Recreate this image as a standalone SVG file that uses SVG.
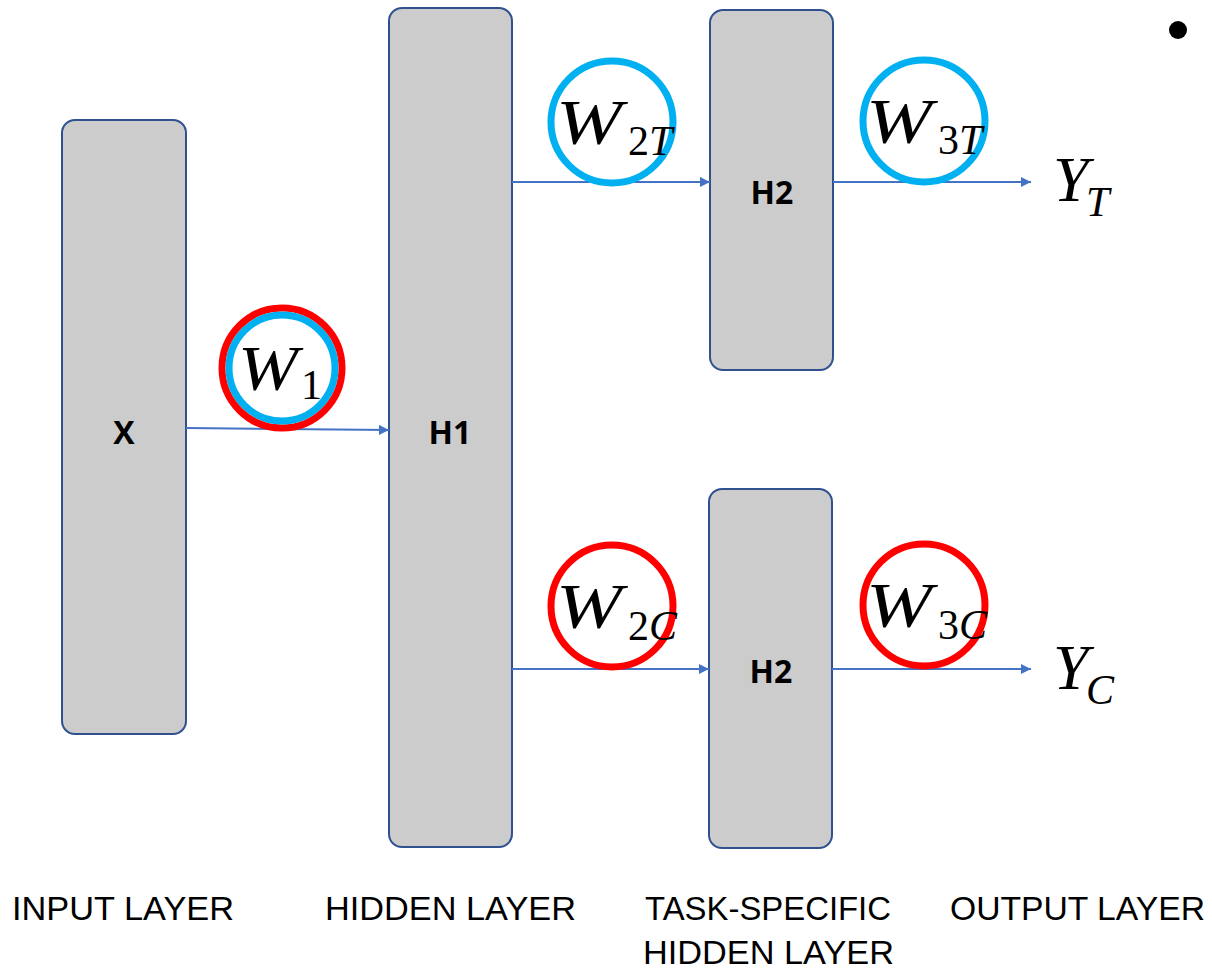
<svg xmlns="http://www.w3.org/2000/svg" width="1212" height="971" viewBox="0 0 1212 971">
<defs>
<marker id="arr" viewBox="0 0 10 10" refX="10" refY="5" markerWidth="5" markerHeight="5" orient="auto" markerUnits="strokeWidth">
<path d="M0,0 L10,5 L0,10 z" fill="#4472c4"/>
</marker>
<style>
.box{fill:#cccccc;stroke:#2f528f;stroke-width:2}
.lbl{font-family:"Open Sans","Liberation Sans",sans-serif;font-weight:bold;font-size:32px;fill:#000;text-anchor:middle}
.conn{stroke:#4472c4;stroke-width:2;fill:none;marker-end:url(#arr)}
.cb{fill:none;stroke:#00b0f0;stroke-width:7}
.cr{fill:none;stroke:#ff0000;stroke-width:7}
.w{font-family:"Liberation Serif",serif;font-style:italic;font-size:64px;fill:#000}
.sub{font-family:"Liberation Serif",serif;font-size:42px;fill:#000}
.it{font-style:italic}
.cap{font-family:"Liberation Sans",sans-serif;font-size:34px;fill:#000}
</style>
</defs>
<rect width="1212" height="971" fill="#fff"/>
<g id="node-x"><rect class="box" x="62" y="120" width="124" height="614" rx="13"/><text class="lbl" x="124" y="444">X</text></g>
<g id="node-h1"><rect class="box" x="389" y="8" width="123" height="839" rx="13"/><text class="lbl" x="450" y="444">H1</text></g>
<g id="node-h2t"><rect class="box" x="710" y="10" width="123" height="360" rx="13"/><text class="lbl" x="772" y="204">H2</text></g>
<g id="node-h2c"><rect class="box" x="709" y="489" width="123" height="359" rx="13"/><text class="lbl" x="771" y="683">H2</text></g>
<g id="connectors">
<path class="conn" d="M186,428 L389,430"/>
<path class="conn" d="M512,182 L710,182"/>
<path class="conn" d="M512,669 L709,669"/>
<path class="conn" d="M833,182 L1031,182"/>
<path class="conn" d="M832,669 L1031,669"/>
</g>
<g id="w1"><circle class="cr" cx="282" cy="368" r="60"/><circle class="cb" cx="282" cy="368" r="53"/><text class="w" x="238" y="390" textLength="60" lengthAdjust="spacingAndGlyphs">W</text><text class="sub" x="301" y="399">1</text></g>
<g id="w2t"><circle class="cb" cx="612" cy="122" r="61"/><text class="w" x="556" y="144" textLength="66" lengthAdjust="spacingAndGlyphs">W</text><text class="sub" x="628" y="155">2<tspan class="it">T</tspan></text></g>
<g id="w3t"><circle class="cb" cx="924" cy="121" r="61"/><text class="w" x="866" y="143" textLength="66" lengthAdjust="spacingAndGlyphs">W</text><text class="sub" x="938" y="154">3<tspan class="it">T</tspan></text></g>
<g id="w2c"><circle class="cr" cx="612" cy="606" r="61"/><text class="w" x="556" y="628" textLength="66" lengthAdjust="spacingAndGlyphs">W</text><text class="sub" x="628" y="640">2<tspan class="it">C</tspan></text></g>
<g id="w3c"><circle class="cr" cx="924" cy="605" r="61"/><text class="w" x="866" y="627" textLength="66" lengthAdjust="spacingAndGlyphs">W</text><text class="sub" x="938" y="639">3<tspan class="it">C</tspan></text></g>
<g id="yt"><text class="w" x="1053" y="201">Y</text><text class="sub it" x="1086" y="216">T</text></g>
<g id="yc"><text class="w" x="1053" y="689">Y</text><text class="sub it" x="1086" y="704">C</text></g>
<circle cx="1178" cy="30" r="9" fill="#000"/>
<g id="captions">
<text class="cap" x="12" y="920" textLength="222" lengthAdjust="spacingAndGlyphs">INPUT LAYER</text>
<text class="cap" x="325" y="920" textLength="251" lengthAdjust="spacingAndGlyphs">HIDDEN LAYER</text>
<text class="cap" x="645" y="920" textLength="246" lengthAdjust="spacingAndGlyphs">TASK-SPECIFIC</text>
<text class="cap" x="643" y="964" textLength="251" lengthAdjust="spacingAndGlyphs">HIDDEN LAYER</text>
<text class="cap" x="950" y="920" textLength="255" lengthAdjust="spacingAndGlyphs">OUTPUT LAYER</text>
</g>
</svg>
